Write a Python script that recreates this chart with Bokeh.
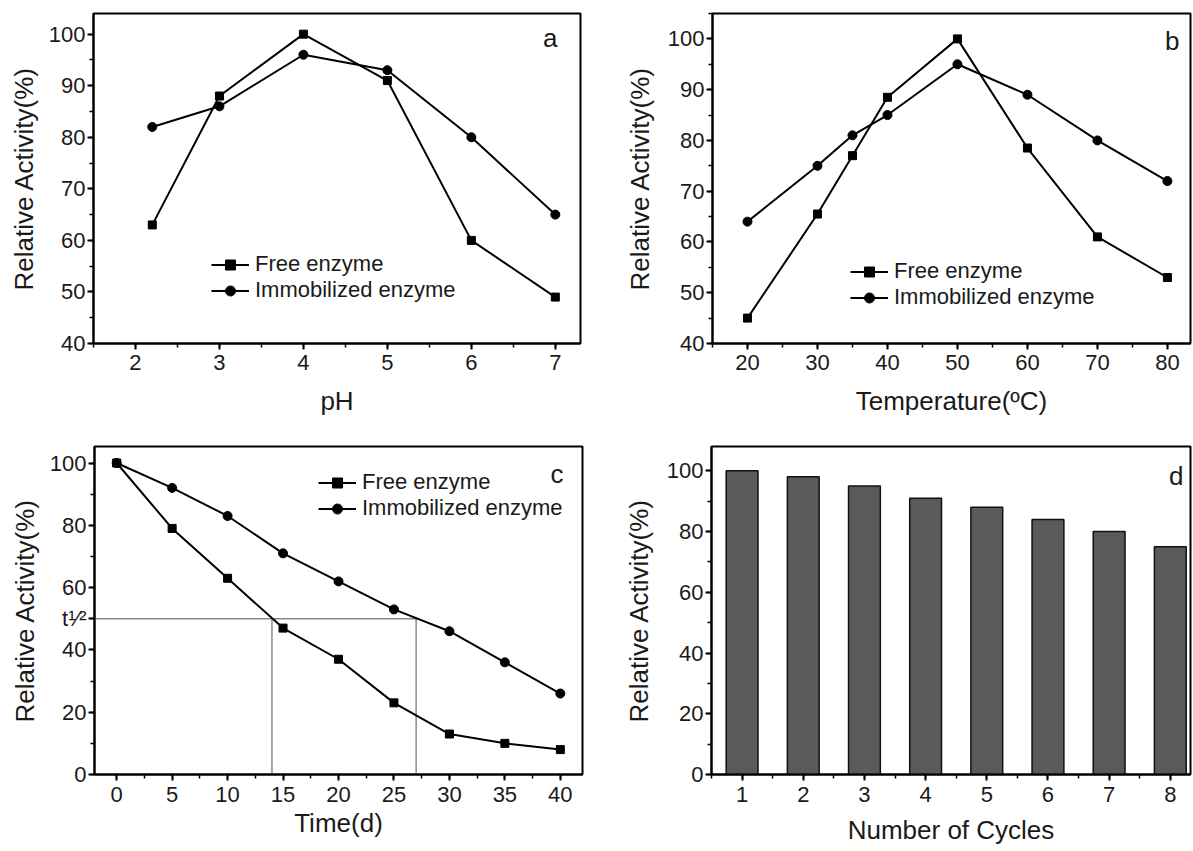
from bokeh.plotting import figure
from bokeh.layouts import row, column
from bokeh.models import FixedTicker, Legend, LegendItem, Label, Range1d
from bokeh.embed import file_html
from bokeh.resources import INLINE

FONT = "Liberation Sans"
Y_LABEL = "Relative Activity(%)"

# ---- Panel a: pH ----
ph = [2.2, 3, 4, 5, 6, 7]
ph_free = [63, 88, 100, 91, 60, 49]
ph_immob = [82, 86, 96, 93, 80, 65]
ph_ticks = [2, 3, 4, 5, 6, 7]
ph_yticks = [40, 50, 60, 70, 80, 90, 100]

# ---- Panel b: temperature ----
temp = [20, 30, 35, 40, 50, 60, 70, 80]
temp_free = [45, 65.5, 77, 88.5, 100, 78.5, 61, 53]
temp_immob = [64, 75, 81, 85, 95, 89, 80, 72]
temp_ticks = [20, 30, 40, 50, 60, 70, 80]
temp_yticks = [40, 50, 60, 70, 80, 90, 100]

# ---- Panel c: storage time ----
days = [0, 5, 10, 15, 20, 25, 30, 35, 40]
day_free = [100, 79, 63, 47, 37, 23, 13, 10, 8]
day_immob = [100, 92, 83, 71, 62, 53, 46, 36, 26]
day_ticks = [0, 5, 10, 15, 20, 25, 30, 35, 40]
day_yticks = [0, 20, 40, 60, 80, 100]
half_activity = 50
half_life_days = [14, 27]
half_life_label = "t\u00b9\u2044\u00b2"

# ---- Panel d: reuse cycles ----
cycles = [1, 2, 3, 4, 5, 6, 7, 8]
cycle_activity = [100, 98, 95, 91, 88, 84, 80, 75]
cycle_yticks = [0, 20, 40, 60, 80, 100]


def minors(ticks, n=2):
    step = (ticks[1] - ticks[0]) / n
    out = []
    t = ticks[0] - step * n
    while t <= ticks[-1] + step * n + 1e-9:
        out.append(round(t, 6))
        t += step
    return out


def make_fig(width, height, xr, yr, borders, xticks, yticks, xlabel,
             ylab_standoff, xlab_standoff, xtick_standoff, yminor=None):
    left, right, top, bottom = borders
    p = figure(width=width, height=height, x_range=Range1d(*xr), y_range=Range1d(*yr),
               output_backend="svg", toolbar_location=None,
               min_border_left=left, min_border_right=right,
               min_border_top=top, min_border_bottom=bottom)
    p.grid.visible = False
    p.outline_line_color = "black"
    p.outline_line_width = 2
    p.background_fill_color = "white"
    p.border_fill_color = "white"
    p.xaxis.ticker = FixedTicker(ticks=xticks, minor_ticks=minors(xticks))
    p.yaxis.ticker = FixedTicker(ticks=yticks, minor_ticks=yminor if yminor else minors(yticks))
    for ax in (p.xaxis[0], p.yaxis[0]):
        ax.axis_line_width = 2
        ax.axis_line_color = "black"
        ax.major_tick_line_width = 2
        ax.major_tick_line_color = "black"
        ax.major_tick_out = 6
        ax.major_tick_in = 0
        ax.minor_tick_line_width = 1.5
        ax.minor_tick_line_color = "black"
        ax.minor_tick_out = 4
        ax.minor_tick_in = 0
        ax.major_label_text_font = FONT
        ax.major_label_text_font_size = "22px"
        ax.major_label_text_color = "#1a1a1a"
        ax.axis_label_text_font = FONT
        ax.axis_label_text_font_size = "26px"
        ax.axis_label_text_font_style = "normal"
        ax.axis_label_text_color = "#1a1a1a"
    p.yaxis.axis_label = Y_LABEL
    p.xaxis.axis_label = xlabel
    p.yaxis.major_label_standoff = 2
    p.xaxis.major_label_standoff = xtick_standoff
    p.yaxis.axis_label_standoff = ylab_standoff
    p.xaxis.axis_label_standoff = xlab_standoff
    return p


def add_series(p, x, y_free, y_immob, loc):
    l1 = p.line(x, y_free, line_color="black", line_width=2)
    s1 = p.scatter(x, y_free, marker="square", size=8, fill_color="black", line_color="black")
    l2 = p.line(x, y_immob, line_color="black", line_width=2)
    s2 = p.scatter(x, y_immob, marker="circle", size=9, fill_color="black", line_color="black")
    legend = Legend(items=[LegendItem(label="Free enzyme", renderers=[l1, s1]),
                           LegendItem(label="Immobilized enzyme", renderers=[l2, s2])],
                    location=loc, border_line_color=None, background_fill_alpha=0,
                    padding=0, margin=0, spacing=0, glyph_width=38, glyph_height=25,
                    label_height=25, label_standoff=6, label_text_font=FONT,
                    label_text_font_size="22px", label_text_color="#1a1a1a")
    p.add_layout(legend)


def add_letter(p, letter, xoff, yoff):
    p.add_layout(Label(x=p.x_range.end, y=p.y_range.end, x_offset=xoff, y_offset=yoff,
                       text=letter, text_align="right", text_baseline="middle",
                       text_font=FONT, text_font_size="26px", text_color="#1a1a1a"))


# Panel a
pa = make_fig(600, 430, (1.5, 7.3), (40, 104), (93, 20, 13, 86), ph_ticks, ph_yticks, "pH",
              ylab_standoff=7, xlab_standoff=13, xtick_standoff=5)
add_series(pa, ph, ph_free, ph_immob, (118, 40))
add_letter(pa, "a", -23, -24)

# Panel b
pb = make_fig(592, 430, (15, 83.3), (40, 105), (112, 2, 12, 87), temp_ticks, temp_yticks,
              "Temperature(ºC)", ylab_standoff=10, xlab_standoff=13, xtick_standoff=5)
add_series(pb, temp, temp_free, temp_immob, (138, 33))
add_letter(pb, "b", -11, -27)

# Panel c
c_yticks = sorted(day_yticks + [half_activity])
pc = make_fig(600, 420, (-2, 42), (0, 105.3), (94, 18, 9, 76), day_ticks, c_yticks,
              "Time(d)", ylab_standoff=7, xlab_standoff=3, xtick_standoff=6,
              yminor=minors(day_yticks))
pc.yaxis.major_label_overrides = {half_activity: half_life_label}
last_day = max(half_life_days)
pc.segment(x0=[pc.x_range.start] + half_life_days,
           y0=[half_activity] + [pc.y_range.start] * len(half_life_days),
           x1=[last_day] + half_life_days,
           y1=[half_activity] * (len(half_life_days) + 1),
           line_color="#8a8a8a", line_width=1.5)
add_series(pc, days, day_free, day_immob, (224, 253))
add_letter(pc, "c", -19, -27)

# Panel d
pd_ = make_fig(592, 420, (0.5, 8.33), (0, 108), (111, 2, 16, 70), cycles, cycle_yticks,
               "Number of Cycles", ylab_standoff=10, xlab_standoff=10, xtick_standoff=6)
pd_.vbar(x=cycles, top=cycle_activity, width=0.52, bottom=0,
         fill_color="#5a5a5a", line_color="#111111", line_width=1.5)
add_letter(pd_, "d", -7, -29)

layout = column(row(pa, pb), row(pc, pd_))
open("out.html", "w").write(file_html(layout, INLINE))
